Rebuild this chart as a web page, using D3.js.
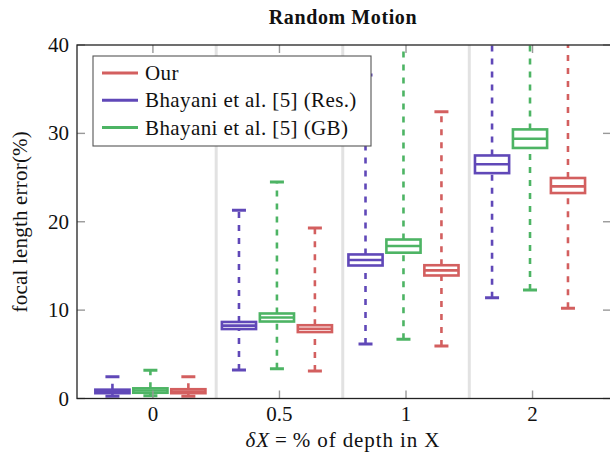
<!DOCTYPE html>
<html lang="en">
<head>
<meta charset="utf-8">
<title>Random Motion</title>
<script src="https://d3js.org/d3.v7.min.js"></script>
<style>
  body { margin: 0; background: #fff; }
</style>
</head>
<body>
<script>
// data
const categories = ["0", "0.5", "1", "2"];
const methods = ["Bhayani et al. [5] (Res.)", "Bhayani et al. [5] (GB)", "Our"];
const colors = ["#6048b8", "#4db464", "#d35f5f"];
// per method: one [lower, q1, median, q3, upper] per category
const resStats = [[0.25, 0.6, 0.8, 1.0, 2.47], [3.22, 7.86, 8.25, 8.66, 21.3], [6.17, 15.05, 15.67, 16.3, 36.6], [11.4, 25.5, 26.5, 27.5, 50]];
const gbStats = [[0.3, 0.65, 0.9, 1.15, 3.2], [3.37, 8.71, 9.17, 9.62, 24.5], [6.7, 16.5, 17.26, 17.99, 48], [12.28, 28.35, 29.4, 30.45, 50]];
const ourStats = [[0.25, 0.6, 0.8, 1.05, 2.47], [3.11, 7.52, 7.9, 8.29, 19.3], [5.94, 13.92, 14.5, 15.08, 32.45], [10.2, 23.25, 24.0, 24.95, 50]];
const allStats = [resStats, gbStats, ourStats];
const offsets = [-0.32, -0.02, 0.28];
const legendOrder = [2, 0, 1];
const yTicks = [0, 10, 20, 30, 40];

const width = 610, height = 458;
const pLeft = 77, pRight = 611, pTop = 45, pBottom = 398.5;
const serif = "'Liberation Serif', 'DejaVu Serif', serif";

const svg = d3.select("body").append("svg")
  .attr("width", width).attr("height", height)
  .attr("font-family", serif);

const x = d3.scaleLinear().domain([-0.6, 3.62]).range([pLeft, pRight]);
const y = d3.scaleLinear().domain([0, 40]).range([pBottom, pTop]);

svg.append("clipPath").attr("id", "plot")
  .append("rect").attr("x", pLeft).attr("y", pTop)
  .attr("width", pRight - pLeft).attr("height", pBottom - pTop);

const g = svg.append("g").attr("clip-path", "url(#plot)");

// light separators between groups
g.selectAll("line.sep")
  .data([0.5, 1.5, 2.5])
  .join("line")
  .attr("x1", d => x(d)).attr("x2", d => x(d))
  .attr("y1", pTop).attr("y2", pBottom)
  .attr("stroke", "#e2e2e2").attr("stroke-width", 3);

// boxes
const boxW = 0.27;
const capW = 14;
allStats.forEach((stats, m) => {
  const col = colors[m];
  const bx = g.append("g");
  stats.forEach((s, i) => {
    const cx = x(i + offsets[m]);
    const [lo, q1, med, q3, hi] = s;
    // whiskers
    [[lo, q1], [q3, hi]].forEach(([a, b]) => {
      bx.append("line")
        .attr("x1", cx).attr("x2", cx)
        .attr("y1", y(a)).attr("y2", y(b))
        .attr("stroke", col).attr("stroke-width", 2.6)
        .attr("stroke-dasharray", "6,7");
    });
    [lo, hi].forEach(v => {
      bx.append("line")
        .attr("x1", cx - capW / 2).attr("x2", cx + capW / 2)
        .attr("y1", y(v)).attr("y2", y(v))
        .attr("stroke", col).attr("stroke-width", 3);
    });
    const w = x(boxW) - x(0);
    bx.append("rect")
      .attr("x", cx - w / 2).attr("width", w)
      .attr("y", y(q3)).attr("height", y(q1) - y(q3))
      .attr("fill", "#fff").attr("stroke", col).attr("stroke-width", 2.6);
    bx.append("line")
      .attr("x1", cx - w / 2).attr("x2", cx + w / 2)
      .attr("y1", y(med)).attr("y2", y(med))
      .attr("stroke", col).attr("stroke-width", 2.6);
  });
});

// ticks (inward, gray)
const tickLen = 8;
const tk = svg.append("g").attr("stroke", "#999").attr("stroke-width", 1.4);
categories.forEach((c, i) => {
  tk.append("line").attr("x1", x(i)).attr("x2", x(i)).attr("y1", pBottom).attr("y2", pBottom - tickLen);
  tk.append("line").attr("x1", x(i)).attr("x2", x(i)).attr("y1", pTop).attr("y2", pTop + tickLen);
});
yTicks.forEach(v => {
  tk.append("line").attr("x1", pLeft).attr("x2", pLeft + tickLen).attr("y1", y(v)).attr("y2", y(v));
  tk.append("line").attr("x1", pRight).attr("x2", pRight - tickLen).attr("y1", y(v)).attr("y2", y(v));
});

// frame
svg.append("rect")
  .attr("x", pLeft).attr("y", pTop)
  .attr("width", pRight - pLeft).attr("height", pBottom - pTop)
  .attr("fill", "none").attr("stroke", "#222").attr("stroke-width", 1.3);

// tick labels
svg.selectAll("text.xt")
  .data(categories)
  .join("text")
  .attr("x", (d, i) => x(i)).attr("y", 421)
  .attr("text-anchor", "middle").attr("font-size", 21).attr("fill", "#111")
  .text(d => d);

svg.selectAll("text.yt")
  .data(yTicks)
  .join("text")
  .attr("x", 69).attr("y", d => y(d) + 7)
  .attr("text-anchor", "end").attr("font-size", 21).attr("fill", "#111")
  .text(d => d);

// legend
const lg = svg.append("g");
lg.append("rect")
  .attr("x", 93).attr("y", 56).attr("width", 278).attr("height", 90)
  .attr("fill", "#fff").attr("stroke", "#555").attr("stroke-width", 1.1);
legendOrder.forEach((m, k) => {
  const ly = 73 + k * 27.3;
  lg.append("line")
    .attr("x1", 102).attr("x2", 138).attr("y1", ly).attr("y2", ly)
    .attr("stroke", colors[m]).attr("stroke-width", 3);
  lg.append("text")
    .attr("x", 145).attr("y", ly + 7)
    .attr("font-size", 21).attr("letter-spacing", 0.4).attr("fill", "#111")
    .text(methods[m]);
});

// title and axis labels
svg.append("text")
  .attr("x", (pLeft + 609) / 2).attr("y", 24)
  .attr("text-anchor", "middle").attr("font-size", 20).attr("letter-spacing", 0.6)
  .attr("font-weight", "bold").attr("fill", "#111")
  .text("Random Motion");

const xl = svg.append("text")
  .attr("x", (pLeft + 609) / 2).attr("y", 447)
  .attr("text-anchor", "middle").attr("font-size", 21).attr("letter-spacing", 0.9).attr("fill", "#111");
xl.append("tspan").attr("font-style", "italic").text("δX");
xl.append("tspan").attr("dx", 5).text("=");
xl.append("tspan").attr("dx", 5).text("% of depth in X");

svg.append("text")
  .attr("transform", `translate(27,${(pTop + pBottom) / 2}) rotate(-90)`)
  .attr("text-anchor", "middle").attr("font-size", 21).attr("letter-spacing", 0.2).attr("fill", "#111")
  .text("focal length error(%)");
</script>
</body>
</html>
